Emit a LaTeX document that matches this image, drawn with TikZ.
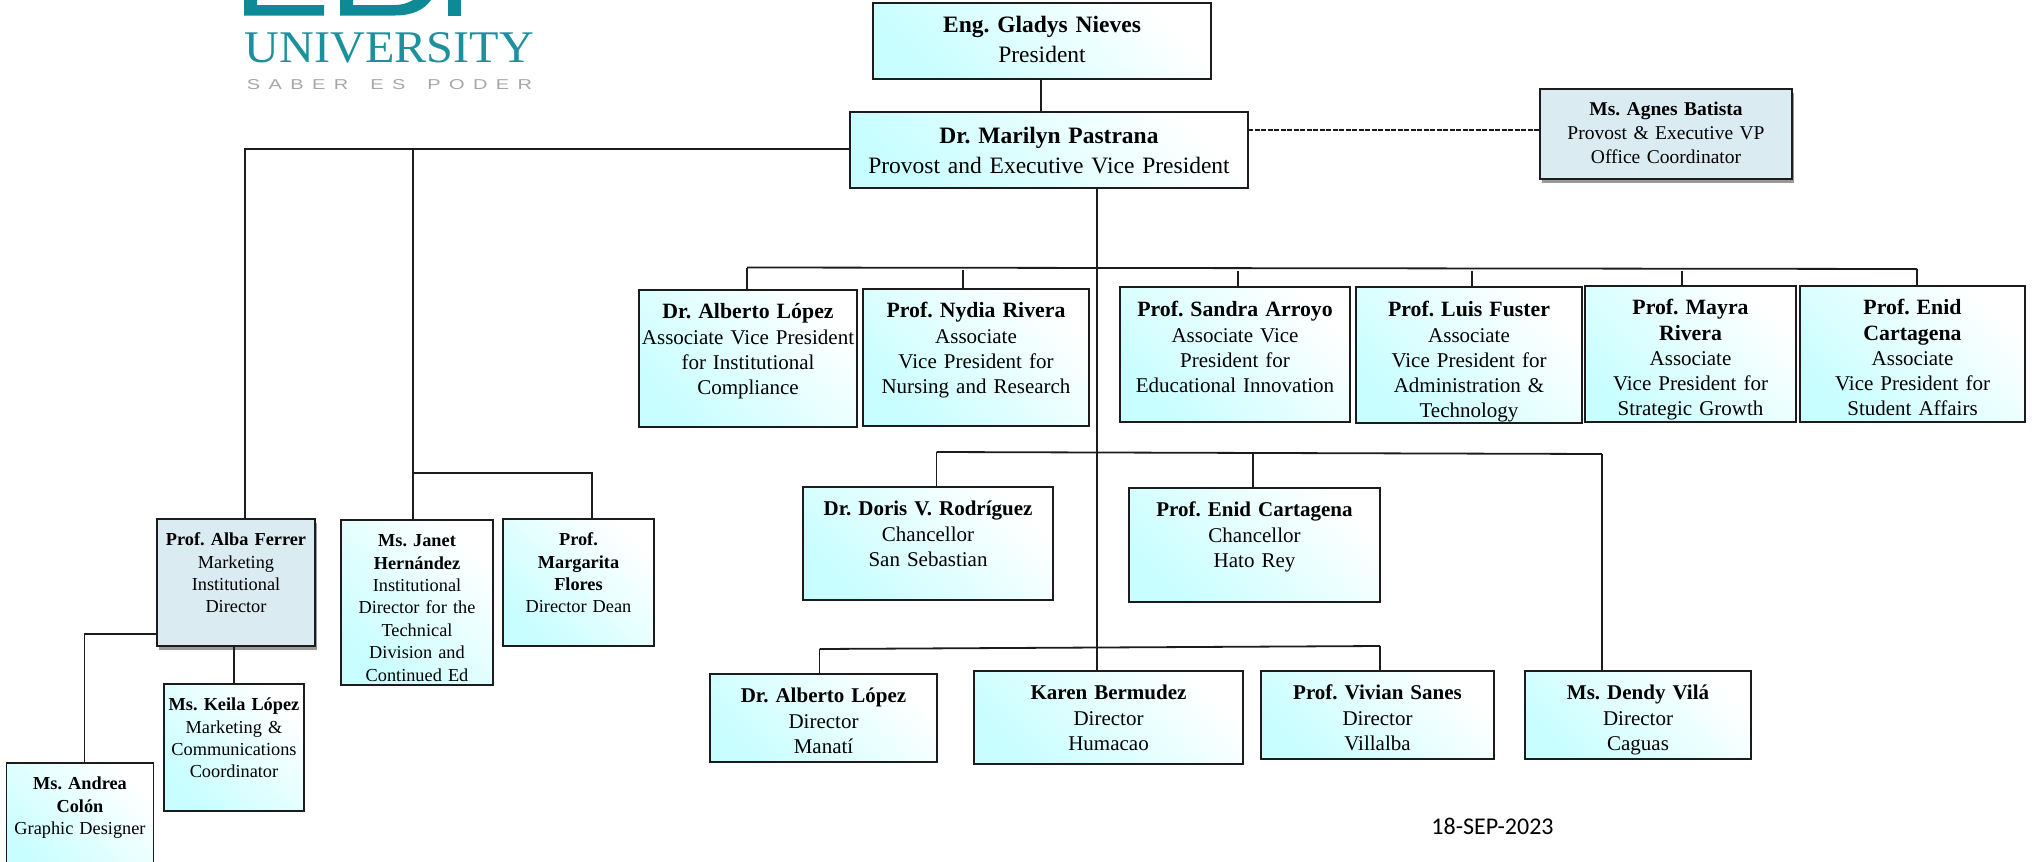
\documentclass[tikz,border=0pt]{standalone}
\usepackage{fontspec}
\setmainfont{Liberation Serif}
\newfontfamily\fechafont{Carlito}
\newfontfamily\lemafont[LetterSpace=42]{Liberation Sans}
\definecolor{cianclaro}{HTML}{C8FEFF}
\definecolor{azulplano}{HTML}{DAEBF1}
\definecolor{tealogo}{HTML}{1C919D}
\definecolor{tealfuerte}{HTML}{0E8A97}
\definecolor{borde}{HTML}{1C1C1C}
\newcommand{\nombre}[1]{{\fontsize{21.8}{25.3}\selectfont\bfseries #1}}
\usetikzlibrary{shadows}
\tikzset{
	caja/.style n args={3}{anchor=north west, inner sep=0pt, outer sep=0pt, align=center, draw=borde, line width=1.8pt,
		text width=#1pt, text height={#3pt+0.7pt}, text depth={#2pt-#3pt-0.7pt}, minimum width=#1pt, minimum height=#2pt,
		top color=white, bottom color=cianclaro, shading angle=-45},
	cajaplana/.style={fill=azulplano, shade=false, drop shadow={shadow xshift=1.5pt, shadow yshift=-3.5pt, opacity=0.4, fill=black}},
	linea/.style={line width=1.8pt, draw=borde},
	grande/.style={font=\fontsize{23.5}{29.5}\selectfont},
	media/.style={font=\fontsize{21}{25.3}\selectfont},
	chica/.style={font=\fontsize{18.3}{22.4}\selectfont},
}
\frenchspacing
\begin{document}
\begin{tikzpicture}[x=1pt, y=-1pt]
	\clip (0,0) rectangle (2043,862);

	% Logo
		\fill[tealfuerte] (244,0) -- (257,0) -- (257,5) -- (324,5) -- (324,15.5) -- (244,15.5) -- cycle;
		\fill[tealfuerte] (340,0) -- (353,0) -- (353,5) -- (395,5) .. controls (402,5) and (408,3) .. (413,0) -- (431,0) .. controls (424,10) and (412,15.5) .. (395,15.5) -- (340,15.5) -- cycle;
		\fill[tealfuerte] (448,0) rectangle (461,15.5);
		\node[anchor=center, inner sep=0pt, text=tealogo] (universidad) at (389.5,48) {\resizebox{289pt}{30pt}{UNIVERSITY}};
		\node[anchor=center, inner sep=0pt, text=gray!70] (lema) at (389.5,85) {\resizebox{285pt}{10pt}{\lemafont SABER\hspace{1.1em}ES\hspace{1.1em}PODER}};

	% Rectoria
		\node[caja={338}{76}{29}, grande] (presidenta) at (873,3) {\textbf{Eng. Gladys Nieves}\\President};
		\node[caja={398}{76}{31}, grande] (provost) at (850,112) {\textbf{Dr. Marilyn Pastrana}\\Provost and Executive Vice President};
		\node[caja={252}{90}{26}, cajaplana, font=\fontsize{19.5}{24}\selectfont] (agnes) at (1540,89) {\textbf{Ms. Agnes Batista}\\Provost \& Executive VP\\Office Coordinator};

	% Vicepresidencias
		\node[caja={218}{137}{28}, media] (alberto) at (639,290) {\nombre{Dr. Alberto López}\\Associate Vice President\\for Institutional\\Compliance};
		\node[caja={226}{137}{28}, media] (nydia) at (863,289) {\nombre{Prof. Nydia Rivera}\\Associate\\Vice President for\\Nursing and Research};
		\node[caja={230}{135}{29}, media] (sandra) at (1120,287) {\nombre{Prof. Sandra Arroyo}\\Associate Vice\\President for\\Educational Innovation};
		\node[caja={226}{136}{29}, media] (luis) at (1356,287) {\nombre{Prof. Luis Fuster}\\Associate\\Vice President for\\Administration \&\\Technology};
		\node[caja={211}{136}{28}, media] (mayra) at (1585,286) {\nombre{Prof. Mayra}\\\nombre{Rivera}\\Associate\\Vice President for\\Strategic Growth};
		\node[caja={225}{136}{28}, media] (enid) at (1800,286) {\nombre{Prof. Enid}\\\nombre{Cartagena}\\Associate\\Vice President for\\Student Affairs};

	% Recintos
		\node[caja={250}{113}{28}, media] (doris) at (803,487) {\textbf{Dr. Doris V. Rodríguez}\\Chancellor\\San Sebastian};
		\node[caja={251}{114}{28}, media] (enidhr) at (1129,488) {\textbf{Prof. Enid Cartagena}\\Chancellor\\Hato Rey};
		\node[caja={227}{88}{28}, media] (manati) at (710,674) {\textbf{Dr. Alberto López}\\Director\\Manatí};
		\node[caja={269}{93}{28}, media] (karen) at (974,671) {\textbf{Karen Bermudez}\\Director\\Humacao};
		\node[caja={233}{88}{28}, media] (vivian) at (1261,671) {\textbf{Prof. Vivian Sanes}\\Director\\Villalba};
		\node[caja={226}{88}{28}, media] (dendy) at (1525,671) {\textbf{Ms. Dendy Vilá}\\Director\\Caguas};

	% Mercadeo y division tecnica
		\node[caja={158}{127}{26}, cajaplana, chica] (alba) at (157,519) {\textbf{Prof. Alba Ferrer}\\Marketing\\Institutional\\Director};
		\node[caja={152}{165}{26}, chica] (janet) at (341,520) {\textbf{Ms. Janet}\\\textbf{Hernández}\\Institutional\\Director for the\\Technical\\Division and\\Continued Ed};
		\node[caja={151}{127}{26}, chica] (margarita) at (503,519) {\textbf{Prof.}\\\textbf{Margarita}\\\textbf{Flores}\\Director Dean};
		\node[caja={140}{127}{26}, chica] (keila) at (164,684) {\textbf{Ms. Keila López}\\Marketing \&\\Communications\\Coordinator};
		\node[caja={147}{110}{26}, chica] (andrea) at (6.5,763) {\textbf{Ms. Andrea}\\\textbf{Colón}\\Graphic Designer};

	% Fecha
		\node[inner sep=0pt, font=\fontsize{24}{28}\fechafont] (fecha) at (1492.5,826) {18-SEP-2023};

	% Puntos de union
		\coordinate (troncoarriba) at (1097,188);
		\coordinate (barraIzq) at (747,267.5);
		\coordinate (barraDer) at (1917,269);
		\coordinate (medioIzq) at (936.5,452);
		\coordinate (medioDer) at (1602,454);
		\coordinate (bajoIzq) at (819.5,649);
		\coordinate (bajoDer) at (1380,646);
		\coordinate (brazoIzq) at (245,149);
		\coordinate (brazoJanet) at (413,149.5);
		\coordinate (ramaJanet) at (413,473);
		\coordinate (ramaMargarita) at (592,473);
		\coordinate (codoAndrea) at (84.5,634);

	% Conectores
		\draw[linea] (presidenta.south -| 1041,0) -- (1041,0 |- provost.north);
		\draw[linea, dash pattern=on 5pt off 1.5pt] (provost.east |- 0,130) -- (agnes.west |- 0,130);
		\draw[linea] (troncoarriba) -- (troncoarriba |- karen.north);
		\draw[linea] (barraIzq) -- (barraDer);
		\draw[linea] (barraIzq) -- (barraIzq |- alberto.north);
		\draw[linea] (963,270) -- (963,0 |- nydia.north);
		\draw[linea] (1238,271) -- (1238,0 |- sandra.north);
		\draw[linea] (1472,271) -- (1472,0 |- luis.north);
		\draw[linea] (1682,271) -- (1682,0 |- mayra.north);
		\draw[linea] (barraDer) -- (barraDer |- enid.north);
		\draw[linea] (medioIzq) -- (medioDer);
		\draw[linea] (medioIzq) -- (medioIzq |- doris.north);
		\draw[linea] (1253,453) -- (1253,0 |- enidhr.north);
		\draw[linea] (medioDer) -- (medioDer |- dendy.north);
		\draw[linea] (bajoIzq) -- (bajoDer);
		\draw[linea] (bajoIzq) -- (bajoIzq |- manati.north);
		\draw[linea] (bajoDer) -- (bajoDer |- vivian.north);
		\draw[linea] (provost.west |- brazoIzq) -- (brazoIzq) -- (brazoIzq |- alba.north);
		\draw[linea] (brazoJanet) -- (brazoJanet |- janet.north);
		\draw[linea] (ramaJanet) -- (ramaMargarita) -- (ramaMargarita |- margarita.north);
		\draw[linea] (alba.west |- codoAndrea) -- (codoAndrea) -- (codoAndrea |- andrea.north);
		\draw[linea] (234,0 |- alba.south) -- (234,0 |- keila.north);
\end{tikzpicture}
\end{document}
